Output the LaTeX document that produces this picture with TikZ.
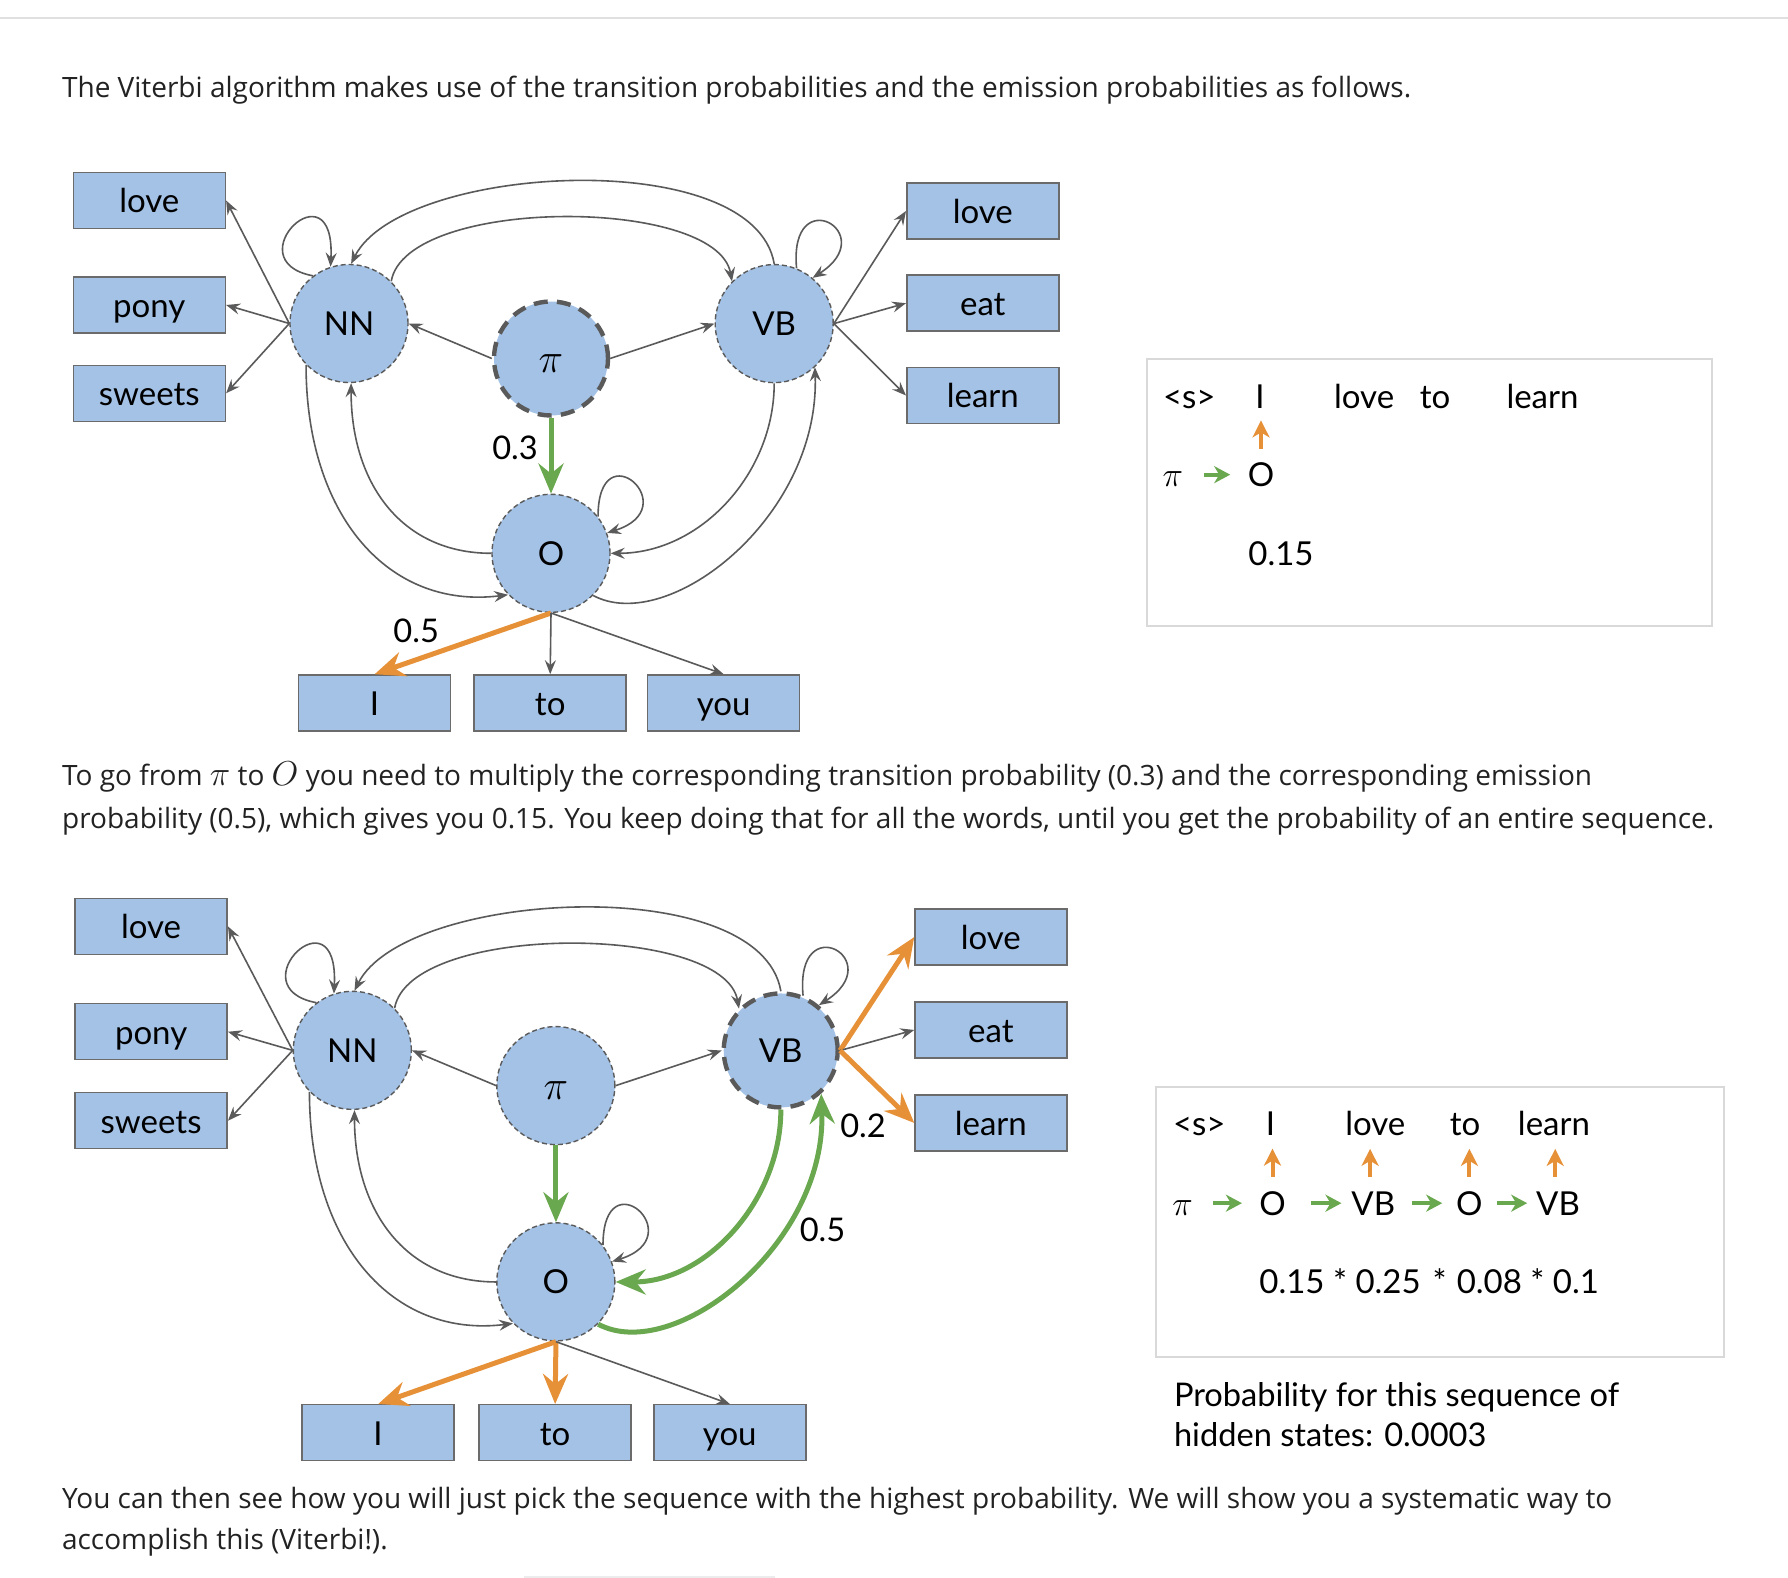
\documentclass[tikz,border=0pt]{standalone}
\usepackage{fontspec}
\setmainfont{Open Sans}
\newfontfamily\lato{Lato}
\usetikzlibrary{arrows.meta}
\definecolor{boxblue}{HTML}{A4C2E6}
\definecolor{boxline}{HTML}{6B6B6B}
\definecolor{arrgray}{HTML}{5A5A5A}
\definecolor{vorange}{HTML}{E69138}
\definecolor{vgreen}{HTML}{6AA84F}
\definecolor{framegray}{HTML}{D9D9D9}
\definecolor{rulegray}{HTML}{E0E0E0}
\definecolor{bodytext}{HTML}{222222}
\newcommand{\bigmath}[2]{{\fontsize{#1}{#1}\selectfont$#2$}}

\newcommand{\hmmdiag}[1]{%
\node[wbox] (#1lovel) at (149.3,200.5) {love};
\node[wbox] (#1ponyl) at (149.3,305) {pony};
\node[wbox] (#1sweetsl) at (149.3,393.3) {sweets};
\node[wbox] (#1lover) at (982.8,211) {love};
\node[wbox] (#1eatr) at (982.8,303.2) {eat};
\node[wbox] (#1learnr) at (982.8,395.5) {learn};
\node[wbox] (#1I) at (374.6,703) {I};
\node[wbox] (#1to) at (550.2,703) {to};
\node[wbox] (#1you) at (723.6,703) {you};
\node[state] (#1NN) at (349,323.5) {NN};
\node[state, s pi, text height=13.6pt, text depth=0pt] (#1pi) at (551,358.5) {\bigmath{20}{\pi}};
\node[state, s vb] (#1VB) at (774.2,323.6) {VB};
\node[state] (#1O) at (551,553.3) {O};
\draw[garr] (#1NN.west) -- (#1lovel.east);
\draw[garr] (#1NN.west) -- (#1ponyl.east);
\draw[garr] (#1NN.west) -- (#1sweetsl.east);
\draw[garr] (#1NN.127) .. controls +(-80,-15) and +(5,-105) .. (#1NN.108);
\draw[garr] (#1VB.90) .. controls +(-20,-120) and +(50,-100) .. (#1NN.88);
\draw[garr] (#1NN.45) .. controls +(15,-85) and +(-15,-85) .. (#1VB.135);
\draw[garr] (#1pi.west) -- (#1NN.east);
\draw[garr] (#1pi.east) -- (#1VB.west);
\draw[garr] (#1VB.68) .. controls +(-8,-88) and +(70,-45) .. (#1VB.50);
\draw[garr, e vblove] (#1VB.east) -- (#1lover.west);
\draw[garr] (#1VB.east) -- (#1eatr.west);
\draw[garr, e vblearn] (#1VB.east) -- (#1learnr.west);
\draw[garr, e pio] (#1pi.south) -- (#1O.north);
\draw[garr] (#1O.38) .. controls +(0,-88) and +(80,-25) .. (#1O.20);
\draw[garr, e vbo] (#1VB.270) .. controls +(0,90) and +(90,0) .. (#1O.east);
\draw[garr, e ovb] (#1O.-45) .. controls +(75,40) and +(5,150) .. (#1VB.-47);
\draw[garr] (#1O.west) .. controls +(-90,0) and +(0,100) .. (#1NN.272);
\draw[garr] (#1NN.224) .. controls +(0,150) and +(-120,15) .. (#1O.224);
\draw[garr, e oi] (#1O.south) -- (#1I.north);
\draw[garr, e oto] (#1O.south) -- (#1to.north);
\draw[garr] (#1O.south) -- (#1you.north);
}

\begin{document}
\begin{tikzpicture}[x=0.5pt,y=-0.5pt,
  wbox/.style={rectangle, fill=boxblue, draw=boxline, line width=0.8pt,
    minimum width=76pt, minimum height=28pt, inner sep=0pt,
    text height=16.4pt, text depth=4pt,
    font=\lato\fontsize{16.5}{18}\selectfont},
  state/.style={circle, fill=boxblue, draw=arrgray, line width=0.7pt,
    dash pattern=on 2.5pt off 1.5pt, minimum size=59pt, inner sep=0pt,
    font=\lato\fontsize{16.5}{18}\selectfont},
  thickstate/.style={line width=2.2pt, dash pattern=on 7pt off 4.6pt, minimum size=57pt},
  garr/.style={draw=arrgray, line width=0.8pt, -{Stealth[length=7pt,width=5.5pt,inset=2.5pt]}},
  greenarr/.style={draw=vgreen, line width=2.5pt, -{Stealth[length=15pt,width=12.5pt,inset=5pt]}},
  orangearr/.style={draw=vorange, line width=2.5pt, -{Stealth[length=15pt,width=12.5pt,inset=5pt]}},
  smallgreen/.style={draw=vgreen, line width=2pt, -{Stealth[length=8pt,width=8.5pt,inset=2.5pt]}},
  smallorange/.style={draw=vorange, line width=2pt, -{Stealth[length=8.5pt,width=8.5pt,inset=2.5pt]}},
  s pi/.style={}, s vb/.style={},
  e pio/.style={}, e oi/.style={}, e oto/.style={}, e vbo/.style={}, e ovb/.style={},
  e vblove/.style={}, e vblearn/.style={},
  lbl/.style={inner sep=0pt, font=\lato\fontsize{16.3}{18}\selectfont},
  body/.style={anchor=base west, inner sep=0pt, text=bodytext, font=\fontsize{14}{16}\selectfont},
  seqtxt/.style={anchor=base, inner sep=0pt, font=\lato\fontsize{16.5}{18}\selectfont},
  probtxt/.style={anchor=base west, inner sep=0pt, font=\lato\fontsize{16.3}{18}\selectfont},
  framebox/.style={rectangle, draw=framegray, line width=1pt, fill=white, inner sep=0pt}
]
\fill[white] (0,0) rectangle (1788,1578);
\useasboundingbox (0,0) rectangle (1788,1578);
\draw[rulegray, line width=1pt] (0,18) -- (1788,18);
\draw[rulegray!60, line width=1pt] (524,1577) -- (775,1577);

% paragraphs
\node[body] (p1) at (61.7,97.5) {The Viterbi algorithm makes use of the transition probabilities and the emission probabilities as follows.};
\node[body] (p2a) at (61.7,785) {To go from \bigmath{16.5}{\pi} to \bigmath{16.5}{O} you need to multiply the corresponding transition probability (0.3) and the corresponding emission};
\node[body] (p2b) at (61.7,828) {probability (0.5), which gives you 0.15. You keep doing that for all the words, until you get the probability of an entire sequence.};
\node[body] (p3a) at (61.7,1508.5) {You can then see how you will just pick the sequence with the highest probability. We will show you a systematic way to};
\node[body] (p3b) at (61.7,1549.5) {accomplish this (Viterbi!).};

% top diagram
\begin{scope}[s pi/.style={thickstate}, e pio/.style={greenarr}, e oi/.style={orangearr}]
\hmmdiag{t}
\end{scope}
\node[lbl] (l03) at (515,448) {0.3};
\node[lbl] (l05a) at (416.2,630.6) {0.5};

% bottom diagram
\begin{scope}[shift={(0.7,724.4)}, scale=1.0075, s vb/.style={thickstate},
  e pio/.style={greenarr}, e vbo/.style={greenarr}, e ovb/.style={greenarr},
  e vblove/.style={orangearr}, e vblearn/.style={orangearr},
  e oi/.style={orangearr}, e oto/.style={orangearr}]
\hmmdiag{b}
\end{scope}
\node[lbl] (l02) at (863,1125.5) {0.2};
\node[lbl] (l05b) at (822.5,1230.3) {0.5};

% top sequence box
\node[framebox, minimum width=282.35pt, minimum height=133.35pt] (box1) at (1429.35,492.65) {};
\node[seqtxt] (a0) at (1189.3,408) {<s>};
\node[seqtxt] (aw1) at (1260,408) {I};
\node[seqtxt] (aw2) at (1364.2,408) {love};
\node[seqtxt] (aw3) at (1435,408) {to};
\node[seqtxt] (aw4) at (1542.5,408) {learn};
\node[seqtxt] (api) at (1172.9,486.5) {\bigmath{19}{\pi}};
\node[seqtxt] (as1) at (1261,486.5) {O};
\node[seqtxt] (ap) at (1281,565) {0.15};
\draw[smallorange, shorten <=6.8pt, shorten >=6pt] (as1.north) -- (as1.north |- aw1.south);
\draw[smallgreen, shorten <=10.4pt, shorten >=8.6pt] (api.east |- as1.west) -- (as1.west);

% bottom sequence box
\node[framebox, minimum width=284.3pt, minimum height=135pt] (box2) at (1440.1,1221.7) {};
\node[seqtxt] (b0) at (1199.3,1135) {<s>};
\node[seqtxt] (bw1) at (1270.5,1135) {I};
\node[seqtxt] (bw2) at (1375.3,1135) {love};
\node[seqtxt] (bw3) at (1465,1135) {to};
\node[seqtxt] (bw4) at (1554,1135) {learn};
\node[seqtxt] (bpi) at (1182.7,1215) {\bigmath{19}{\pi}};
\node[seqtxt] (bs1) at (1272.5,1215) {O};
\node[seqtxt] (bs2) at (1373.3,1215) {VB};
\node[seqtxt] (bs3) at (1469.4,1215) {O};
\node[seqtxt] (bs4) at (1558,1215) {VB};
\node[seqtxt, anchor=base west] (bp) at (1259,1293.5) {0.15 * 0.25\hspace{6pt}*\hspace{5pt}0.08 * 0.1};
\draw[smallorange, shorten <=6.9pt, shorten >=6.6pt] (bs1.north) -- (bs1.north |- bw1.south);
\draw[smallorange, shorten <=6.9pt, shorten >=6.6pt] ([xshift=-1.6pt]bs2.north) -- ([xshift=-1.6pt]bs2.north |- bw2.south);
\draw[smallorange, shorten <=6.9pt, shorten >=6.6pt] (bs3.north) -- (bs3.north |- bw3.south);
\draw[smallorange, shorten <=6.9pt, shorten >=6.6pt] ([xshift=-1.4pt]bs4.north) -- ([xshift=-1.4pt]bs4.north |- bw4.south);
\draw[smallgreen, shorten <=10pt, shorten >=8.5pt] (bpi.east |- bs1.west) -- (bs1.west);
\draw[smallgreen, shorten <=12.5pt, shorten >=4.8pt] (bs1.east) -- (bs2.west |- bs1.east);
\draw[smallgreen, shorten <=8.2pt, shorten >=6.8pt] (bs2.east |- bs3.west) -- (bs3.west);
\draw[smallgreen, shorten <=7pt, shorten >=4.3pt] (bs3.east) -- (bs4.west |- bs3.east);

\node[probtxt] (pr1) at (1173.6,1406) {Probability for this sequence of};
\node[probtxt] (pr2) at (1173.6,1446) {hidden states: 0.0003};
\end{tikzpicture}
\end{document}
